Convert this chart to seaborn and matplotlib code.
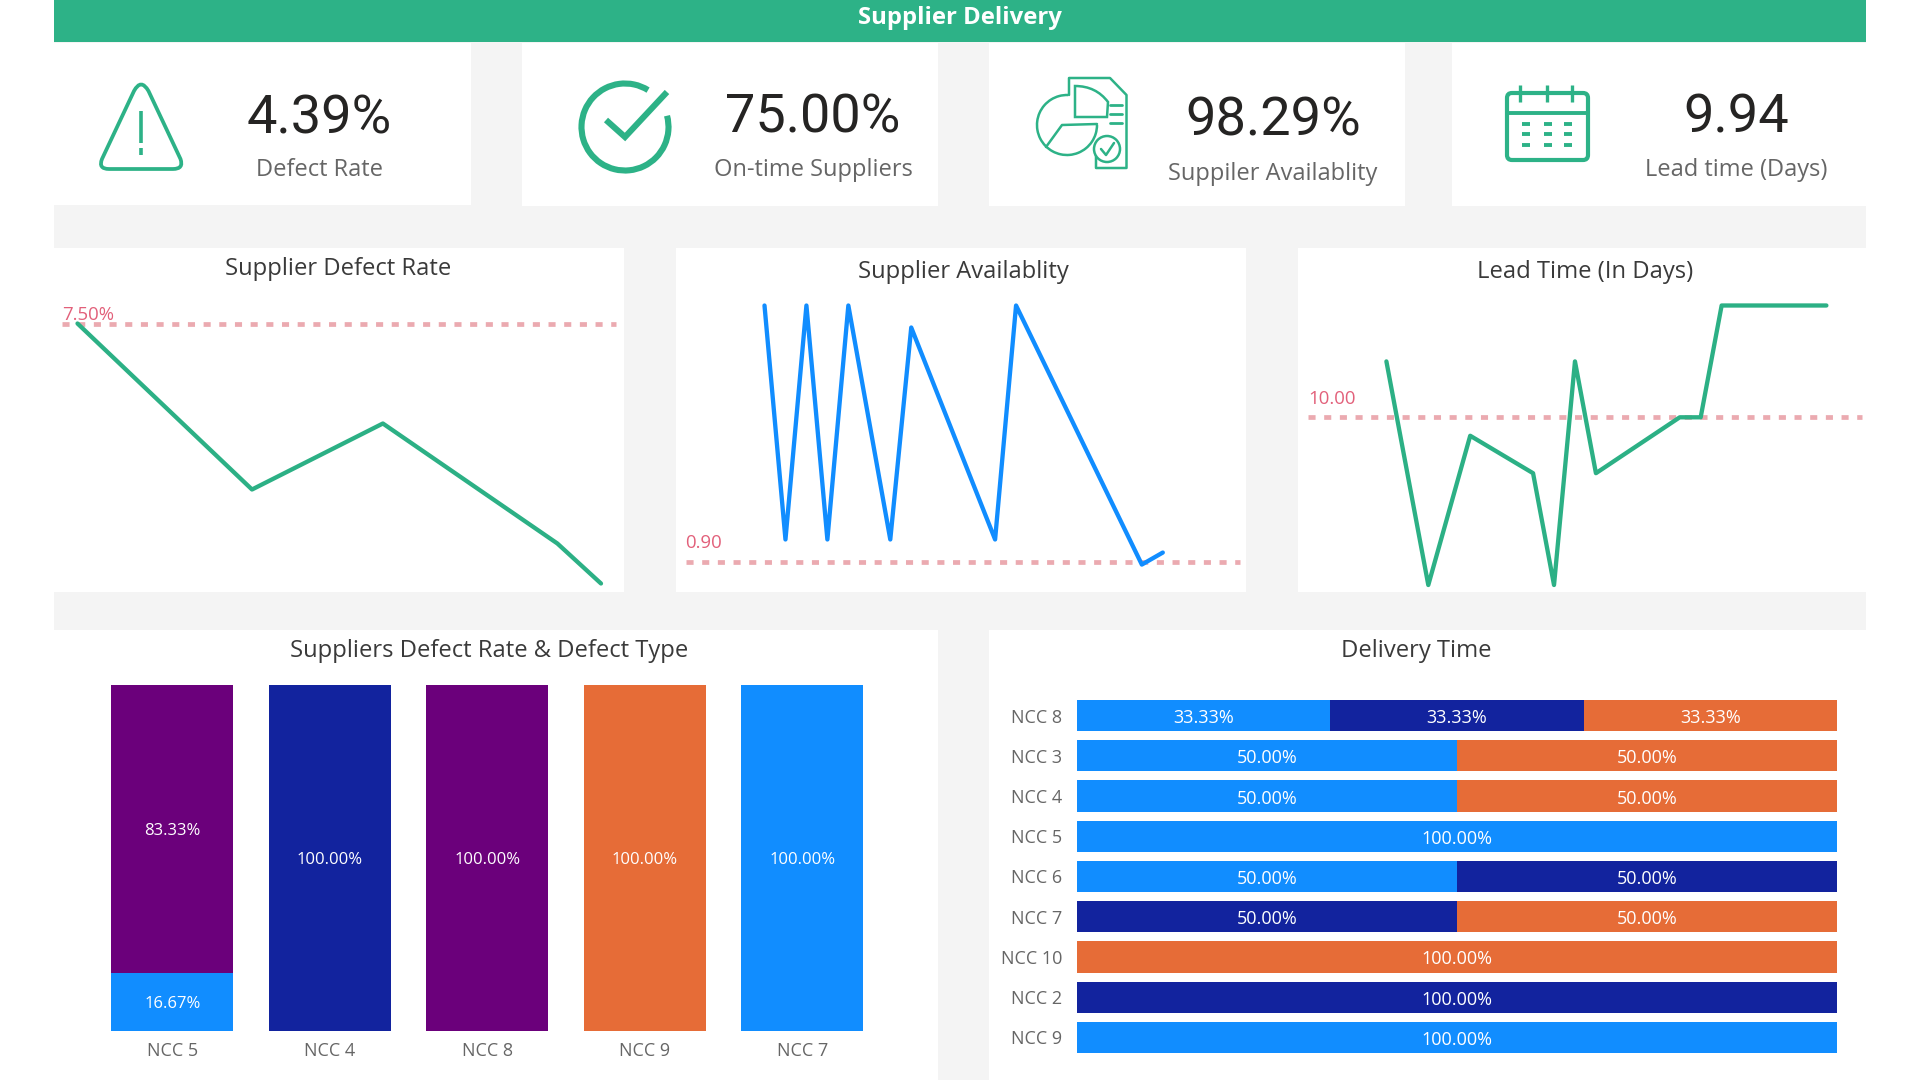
import matplotlib
matplotlib.use("Agg")
import matplotlib.pyplot as plt
import numpy as np
import pandas as pd
import seaborn as sns
from matplotlib.patches import Rectangle, Circle, Arc, FancyBboxPatch, PathPatch
from matplotlib.path import Path

# ---------- data ----------
header_title = "Supplier Delivery"
kpi_values = ["4.39%", "75.00%", "98.29%", "9.94"]
kpi_labels = ["Defect Rate", "On-time Suppliers", "Suppiler Availablity", "Lead time (Days)"]

defect_x = [0, 4, 7, 11, 12]
defect_y = [7.5, 3.35, 5.0, 2.0, 1.0]
defect_target = 7.5

avail_x = [0, 1, 2, 3, 4, 6, 7, 11, 12, 18, 19]
avail_y = [1.00, 0.9086, 1.00, 0.9086, 1.00, 0.9086, 0.9914, 0.9086, 1.00, 0.8988, 0.9035]
avail_target = 0.90

lead_x = [0, 2, 4, 7, 8, 9, 10, 14, 15, 16, 21]
lead_y = [11, 7, 9.67, 9, 7, 11, 9, 10, 10, 12, 12]
lead_target = 10.0

defect_suppliers = ["NCC 5", "NCC 4", "NCC 8", "NCC 9", "NCC 7"]
defect_blue = [16.67, 0, 0, 0, 100]
defect_purple = [83.33, 0, 100, 0, 0]
defect_navy = [0, 100, 0, 0, 0]
defect_orange = [0, 0, 0, 100, 0]

delivery_suppliers = ["NCC 8", "NCC 3", "NCC 4", "NCC 5", "NCC 6", "NCC 7", "NCC 10", "NCC 2", "NCC 9"]
delivery_blue = [33.33, 50, 50, 100, 50, 0, 0, 0, 100]
delivery_navy = [33.33, 0, 0, 0, 50, 50, 0, 100, 0]
delivery_orange = [33.33, 50, 50, 0, 0, 50, 100, 0, 0]

# ---------- style ----------
GREEN = "#2DB287"
LINE_GREEN = "#2CB085"
BLUE = "#118DFF"
NAVY = "#12239E"
PURPLE = "#6B007B"
ORANGE = "#E66C37"
BG = "#F4F4F4"
TARGET = "#EBAAB0"
TARGET_TXT = "#E2607A"
TITLE = "#3A3A3A"
SUB = "#666666"
UI = "Open Sans"

sns.set_theme(style="white")
plt.rcParams["font.family"] = [UI, "DejaVu Sans"]

W, H = 1920, 1080
fig = plt.figure(figsize=(W / 100, H / 100), dpi=100, facecolor="white")


def px_axes(x0, y0, x1, y1, z=2):
    ax = fig.add_axes([x0 / W, 1 - y1 / H, (x1 - x0) / W, (y1 - y0) / H], zorder=z)
    ax.patch.set_alpha(0)
    return ax


# base layer in pixel coordinates
base = px_axes(0, 0, W, H, z=0)
base.set_xlim(0, W)
base.set_ylim(H, 0)
base.axis("off")


def rect(x0, y0, x1, y1, c):
    base.add_patch(Rectangle((x0, y0), x1 - x0, y1 - y0, fc=c, ec="none"))


rect(54, 0, 1866, 1080, BG)
rect(54, 0, 1866, 42, GREEN)
for x0, x1, y1 in [(54, 471, 205), (522, 938, 206), (989, 1405, 206), (1452, 1866, 206)]:
    rect(x0, 43, x1, y1, "white")
panels = [(54, 248, 624, 592), (676, 248, 1246, 592), (1298, 248, 1866, 592)]
for p in panels:
    rect(*p, "white")
rect(54, 630, 938, 1080, "white")
rect(989, 630, 1866, 1080, "white")

base.text(960, 18.5, header_title, color="white", fontsize=17.2, fontweight="bold", ha="center", va="center")

kpi_pos = [(319, 119, 170.5), (813, 118, 170), (1273, 121, 174), (1736, 118, 170)]
for (cx, vy, ly), v, l in zip(kpi_pos, kpi_values, kpi_labels):
    base.text(cx, vy, v, family="Roboto", fontsize=39, color="#252423", ha="center", va="center")
    base.text(cx, ly, l, fontsize=17, color=SUB, ha="center", va="center")

for cx, cy, t in [(338, 269, "Supplier Defect Rate"), (963, 271.5, "Supplier Availablity"),
                  (1585, 271.5, "Lead Time (In Days)"), (489, 651, "Suppliers Defect Rate & Defect Type"),
                  (1416, 651, "Delivery Time")]:
    base.text(cx, cy, t, fontsize=17.1, color=TITLE, ha="center", va="center")

# ---------- icons ----------
ilw = 2.7
tri = Path([(134, 91), (102, 159), (98, 169), (109, 169), (173, 169), (184, 169), (180.5, 159),
            (148.5, 91), (141, 78), (134, 91), (134, 91)],
           [Path.MOVETO, Path.LINETO, Path.CURVE3, Path.CURVE3, Path.LINETO, Path.CURVE3, Path.CURVE3,
            Path.LINETO, Path.CURVE3, Path.CURVE3, Path.CLOSEPOLY])
base.add_patch(PathPatch(tri, fc="none", ec=GREEN, lw=ilw))
base.plot([141, 141], [111, 143], color=GREEN, lw=2.6, solid_capstyle="butt")
base.plot([141, 141], [148, 155], color=GREEN, lw=2.6, solid_capstyle="butt")

base.add_patch(Arc((625, 127), 87, 87, theta1=-15, theta2=302, ec=GREEN, lw=4.4))
base.plot([606, 625, 667], [120, 137, 92], color=GREEN, lw=4.4, solid_joinstyle="miter", solid_capstyle="butt")

# document + pie icon
doc = [(1096, 155), (1096, 168), (1126.5, 168), (1126.5, 95), (1110, 78), (1069, 78), (1069, 95)]
base.plot(*zip(*doc), color=GREEN, lw=1.8)
sector = Path([(1075, 117), (1075, 86), (1096, 86), (1108, 102), (1107, 117), (1075, 117)],
              [Path.MOVETO, Path.LINETO, Path.CURVE3, Path.CURVE3, Path.LINETO, Path.CLOSEPOLY])
base.add_patch(PathPatch(sector, fc="white", ec=GREEN, lw=1.8))
base.add_patch(Arc((1067, 125), 60, 60, theta1=0, theta2=272, ec=GREEN, lw=1.8))
base.plot([1097, 1062, 1046], [124, 125, 147], color=GREEN, lw=1.8)
for y in (105, 114, 123):
    base.plot([1110, 1122], [y, y], color=GREEN, lw=2)
base.add_patch(Circle((1107, 149), 13, fc="white", ec=GREEN, lw=1.8, zorder=3))
base.plot([1101, 1106, 1114], [149, 155, 143], color=GREEN, lw=1.8, zorder=4)

# calendar icon
base.add_patch(FancyBboxPatch((1507, 93), 81, 67, boxstyle="round,pad=0,rounding_size=5", fc="none", ec=GREEN, lw=3))
base.plot([1507, 1587], [113, 113], color=GREEN, lw=2.8)
for x in (1520, 1547, 1572):
    base.plot([x, x], [85, 102], color=GREEN, lw=2.4, solid_capstyle="butt")
for x in (1526, 1548, 1568):
    for y in (124, 134, 145):
        base.plot([x - 4, x + 4], [y, y], color=GREEN, lw=2.8, solid_capstyle="butt")


# ---------- line panels ----------
def line_panel(panel, xs, ys, color, target, label, px0, px1, py_t, py_per_unit, tx0, tx1, lx, ly):
    x0, y0, x1, y1 = panel
    ax = px_axes(x0, y0, x1, y1)
    sns.lineplot(x=xs, y=ys, ax=ax, color=color, linewidth=3.1)
    unit = (px1 - px0) / (xs[-1] - xs[0])
    ax.set_xlim(xs[0] + (x0 - px0) / unit, xs[0] + (x1 - px0) / unit)
    ax.set_ylim(target - (y1 - py_t) / py_per_unit, target + (py_t - y0) / py_per_unit)
    ax.axhline(target, xmin=(tx0 - x0) / (x1 - x0), xmax=(tx1 - x0) / (x1 - x0), color=TARGET,
               lw=3.4, dashes=(1.5, 1.82), zorder=1)
    ax.axis("off")
    base.text(lx, ly, label, color=TARGET_TXT, fontsize=13.4, ha="left", va="center")


line_panel(panels[0], defect_x, defect_y, LINE_GREEN, defect_target, "7.50%", 77.5, 601, 323.5, 40, 62, 616, 62, 315)
line_panel(panels[1], avail_x, avail_y, BLUE, avail_target, "0.90", 764.5, 1162.8, 561.5, 2560, 686, 1240, 685, 543.5)
line_panel(panels[2], lead_x, lead_y, LINE_GREEN, lead_target, "10.00", 1386.4, 1826.4, 417.3, 55.9, 1308, 1862, 1308, 398.5)


# ---------- stacked bars ----------
def fmt(vals):
    return [f"{v:.2f}%" if v > 0 else "" for v in vals]


def nudge(labels, dy):
    for t in labels:
        t.xyann = (t.xyann[0], t.xyann[1] + dy)


ax = px_axes(93.5, 685, 881, 1030.5)
df = pd.DataFrame({"supplier": defect_suppliers, "blue": defect_blue, "purple": defect_purple,
                   "navy": defect_navy, "orange": defect_orange})
bottom = np.zeros(len(df))
for name, col in [("blue", BLUE), ("purple", PURPLE), ("navy", NAVY), ("orange", ORANGE)]:
    n = len(ax.containers)
    sns.barplot(data=df, x="supplier", y=name, order=defect_suppliers, color=col, saturation=1,
                width=0.775, bottom=bottom, errorbar=None, linewidth=0, ax=ax)
    nudge(ax.bar_label(ax.containers[n], labels=fmt(df[name]), label_type="center", color="white", fontsize=12), -1.5)
    bottom = bottom + df[name].to_numpy()
ax.set_xlim(-0.5, 4.5)
ax.set_ylim(0, 100)
ax.set(xlabel="", ylabel="", yticks=[])
ax.tick_params(axis="x", length=0, pad=8.5, labelsize=13, labelcolor=SUB)
sns.despine(ax=ax, left=True, bottom=True)

ax = px_axes(1077, 695.4, 1837, 1057.6)
df = pd.DataFrame({"supplier": delivery_suppliers, "blue": delivery_blue, "navy": delivery_navy,
                   "orange": delivery_orange})
left = np.zeros(len(df))
for name, col in [("blue", BLUE), ("navy", NAVY), ("orange", ORANGE)]:
    n = len(ax.containers)
    sns.barplot(data=df, y="supplier", x=name, order=delivery_suppliers, color=col, saturation=1,
                width=0.78, left=left, errorbar=None, orient="y", linewidth=0, ax=ax)
    nudge(ax.bar_label(ax.containers[n], labels=fmt(df[name]), label_type="center", color="white", fontsize=13), -1.8)
    left = left + df[name].to_numpy()
ax.set_xlim(0, 100)
ax.set_ylim(8.5, -0.5)
ax.set(xlabel="", ylabel="", xticks=[])
ax.tick_params(axis="y", length=0, pad=10.5, labelsize=13, labelcolor=SUB)
sns.despine(ax=ax, left=True, bottom=True)

fig.savefig("out.png", dpi=100, facecolor="white")
